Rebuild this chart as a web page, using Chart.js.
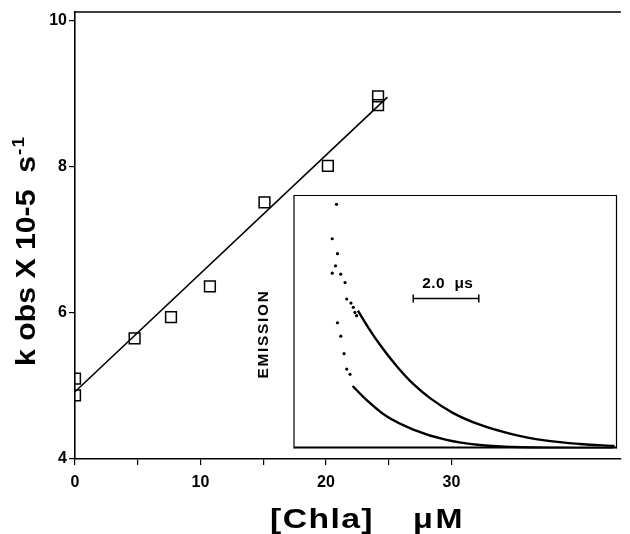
<!DOCTYPE html>
<html>
<head>
<meta charset="utf-8">
<script src="https://cdn.jsdelivr.net/npm/chart.js@4"></script>
<style>
  html, body { margin: 0; padding: 0; background: #fff; }
  #wrap { position: relative; width: 630px; height: 534px; }
  #main { position: absolute; left: 0; top: 0; }
  #inset { position: absolute; left: 250px; top: 190px; }
</style>
</head>
<body>
<div id="wrap">
  <canvas id="main" width="630" height="534"></canvas>
  <canvas id="inset" width="372" height="264"></canvas>
</div>
<script>
// ---- main plot data ----
const chlaConc = [0, 0, 4.75, 7.65, 10.75, 15.1, 20.15, 24.15, 24.15];   // µM
const kObs     = [5.1, 4.87, 5.65, 5.94, 6.36, 7.51, 8.01, 8.96, 8.84]; // x 10^5 s^-1
const fitConc  = [0, 24.9];
const fitK     = [4.92, 8.95];
const xTickValues = [0, 5, 10, 15, 20, 25, 30];
const xTickLabels = [0, 10, 20, 30];
const yTickLabels = [4, 6, 8, 10];

// ---- inset (emission decay traces) data, time in µs, emission arbitrary ----
const decaySlowT = [1.94, 2.27, 2.61, 3.12, 3.61, 4.12, 4.82, 5.64, 6.64, 7.67, 8.67, 9.73];
const decaySlowE = [0.545, 0.475, 0.410, 0.325, 0.256, 0.200, 0.141, 0.094, 0.056, 0.031, 0.018, 0.010];
const decayFastT = [1.78, 2.20, 2.81, 3.62, 4.63, 5.64, 6.65, 8.0, 9.7];
const decayFastE = [0.247, 0.192, 0.127, 0.075, 0.034, 0.014, 0.006, 0.002, 0.0];
const spikeT = [1.29, 1.16, 1.32, 1.26, 1.16, 1.42, 1.55, 1.60, 1.73, 1.80, 1.85, 1.90, 1.32, 1.42, 1.52, 1.60, 1.70];
const spikeE = [0.965, 0.829, 0.770, 0.722, 0.693, 0.689, 0.656, 0.591, 0.575, 0.558, 0.538, 0.525, 0.497, 0.444, 0.375, 0.314, 0.293];
const scaleBarT = [3.62, 5.61];
const scaleBarE = [0.593, 0.593];
const scaleBarLabel = '2.0  \u03bcs';

const FONT = '"Liberation Sans", Arial, Helvetica, sans-serif';

// draws text horizontally stretched by sx, then letter-spaced to reach targetWidth
function wideText(ctx, text, x, y, font, sx, targetWidth) {
  ctx.save();
  ctx.font = font;
  ctx.letterSpacing = '0px';
  const w = ctx.measureText(text).width * sx;
  const ls = Math.max(0, (targetWidth - w) / text.length) / sx;
  ctx.translate(x, y);
  ctx.scale(sx, 1);
  ctx.letterSpacing = ls + 'px';
  ctx.fillText(text, 0, 0);
  ctx.restore();
  return Math.max(w, targetWidth);
}

const mainDecor = {
  id: 'mainDecor',
  afterDraw(chart) {
    const { ctx, chartArea: a } = chart;
    ctx.save();
    // top frame line
    ctx.strokeStyle = '#000';
    ctx.lineWidth = 1.6;
    ctx.beginPath();
    ctx.moveTo(a.left, a.top);
    ctx.lineTo(a.right, a.top);
    ctx.stroke();

    ctx.fillStyle = '#000';
    ctx.textBaseline = 'alphabetic';
    ctx.textAlign = 'left';
    // y-axis title with superscript
    ctx.save();
    ctx.translate(35, 366);
    ctx.rotate(-Math.PI / 2);
    const w1 = wideText(ctx, 'k obs X 10-5  s', 0, 0, 'bold 27px ' + FONT, 1.12, 197);
    wideText(ctx, '-1', w1 + 1, -11, 'bold 17px ' + FONT, 1.12, 19);
    ctx.restore();

    // x-axis title
    wideText(ctx, '[Chla]', 270, 528, 'bold 27px ' + FONT, 1.25, 104);
    wideText(ctx, '\u03bcM', 413, 528, 'bold 27px ' + FONT, 1.2, 52);
    ctx.restore();
  }
};

new Chart(document.getElementById('main'), {
  data: {
    datasets: [
      {
        type: 'scatter',
        data: chlaConc.map((x, i) => ({ x, y: kObs[i] })),
        pointStyle: 'rect',
        pointRadius: 7.6,
        pointHoverRadius: 7.6,
        pointBorderWidth: 1.5,
        borderColor: '#000',
        backgroundColor: 'rgba(255,255,255,0)',
        clip: { left: 0, top: false, right: false, bottom: false }
      },
      {
        type: 'line',
        data: fitConc.map((x, i) => ({ x, y: fitK[i] })),
        borderColor: '#000',
        borderWidth: 1.6,
        pointRadius: 0,
        fill: false
      }
    ]
  },
  options: {
    responsive: false,
    animation: false,
    events: [],
    layout: { padding: { top: 12, left: 0, right: 0, bottom: 0 } },
    plugins: { legend: { display: false }, tooltip: { enabled: false } },
    scales: {
      x: {
        type: 'linear',
        min: 0,
        max: 43.5,
        afterBuildTicks: s => { s.ticks = xTickValues.map(v => ({ value: v })); },
        afterFit: s => { s.height = 75; },
        ticks: {
          color: '#000',
          padding: 8,
          maxRotation: 0,
          autoSkip: false,
          font: { family: FONT, size: 16, weight: 'bold' },
          callback: v => (xTickLabels.includes(v) ? String(v) : '')
        },
        grid: { drawOnChartArea: false, tickLength: 6, color: '#000', lineWidth: 1.2 },
        border: { color: '#000', width: 1.6 }
      },
      y: {
        type: 'linear',
        min: 4,
        max: 10.115,
        afterBuildTicks: s => { s.ticks = yTickLabels.map(v => ({ value: v })); },
        afterFit: s => { s.width = 75; },
        ticks: {
          color: '#000',
          padding: 2,
          autoSkip: false,
          font: { family: FONT, size: 16, weight: 'bold' },
          callback: v => String(v)
        },
        grid: { drawOnChartArea: false, tickLength: 6, color: '#000', lineWidth: 1.2 },
        border: { color: '#000', width: 1.6 }
      }
    }
  },
  plugins: [mainDecor]
});

const insetDecor = {
  id: 'insetDecor',
  beforeDatasetsDraw(chart) {
    const { ctx, chartArea: a } = chart;
    ctx.save();
    ctx.fillStyle = '#fff';
    ctx.fillRect(a.left, a.top, a.right - a.left, a.bottom - a.top);
    ctx.restore();
  },
  afterDatasetsDraw(chart) {
    const { ctx, chartArea: a, scales } = chart;
    ctx.save();
    ctx.strokeStyle = '#000';
    ctx.lineWidth = 1.2;
    ctx.beginPath();
    ctx.moveTo(a.left, a.bottom);
    ctx.lineTo(a.left, a.top);
    ctx.lineTo(a.right, a.top);
    ctx.lineTo(a.right, a.bottom);
    ctx.stroke();
    ctx.lineWidth = 2;
    ctx.beginPath();
    ctx.moveTo(a.left, a.bottom - 1);
    ctx.lineTo(a.right, a.bottom - 1);
    ctx.stroke();

    ctx.fillStyle = '#000';
    ctx.textAlign = 'left';
    ctx.textBaseline = 'alphabetic';
    // scale-bar label
    const xl = scales.x.getPixelForValue(scaleBarT[0]) + 9;
    const yl = scales.y.getPixelForValue(scaleBarE[0]) - 10;
    wideText(ctx, scaleBarLabel, xl, yl, 'bold 14px ' + FONT, 1.1, 51);

    // EMISSION label
    ctx.save();
    ctx.translate(a.left - 26, a.top + 183);
    ctx.rotate(-Math.PI / 2);
    wideText(ctx, 'EMISSION', 0, 0, 'bold 14px ' + FONT, 1.1, 89);
    ctx.restore();
    ctx.restore();
  }
};

new Chart(document.getElementById('inset'), {
  data: {
    datasets: [
      {
        type: 'line',
        data: decaySlowT.map((x, i) => ({ x, y: decaySlowE[i] })),
        borderColor: '#000',
        borderWidth: 2.4,
        pointRadius: 0,
        cubicInterpolationMode: 'monotone',
        fill: false
      },
      {
        type: 'line',
        data: decayFastT.map((x, i) => ({ x, y: decayFastE[i] })),
        borderColor: '#000',
        borderWidth: 2.4,
        pointRadius: 0,
        cubicInterpolationMode: 'monotone',
        fill: false
      },
      {
        type: 'scatter',
        data: spikeT.map((x, i) => ({ x, y: spikeE[i] })),
        pointRadius: 1.6,
        pointBorderWidth: 0,
        backgroundColor: '#000',
        borderColor: '#000'
      },
      {
        type: 'line',
        data: scaleBarT.map((x, i) => ({ x, y: scaleBarE[i] })),
        borderColor: '#000',
        borderWidth: 1.5,
        pointStyle: 'line',
        pointRotation: 90,
        pointRadius: 4,
        pointBorderWidth: 1.5,
        fill: false
      }
    ]
  },
  options: {
    responsive: false,
    animation: false,
    events: [],
    layout: { padding: { left: 44, top: 4, right: 5, bottom: 5 } },
    plugins: { legend: { display: false }, tooltip: { enabled: false } },
    scales: {
      x: { type: 'linear', min: 0, max: 9.79, display: false },
      y: { type: 'linear', min: 0, max: 1, display: false }
    }
  },
  plugins: [insetDecor]
});
</script>
</body>
</html>
